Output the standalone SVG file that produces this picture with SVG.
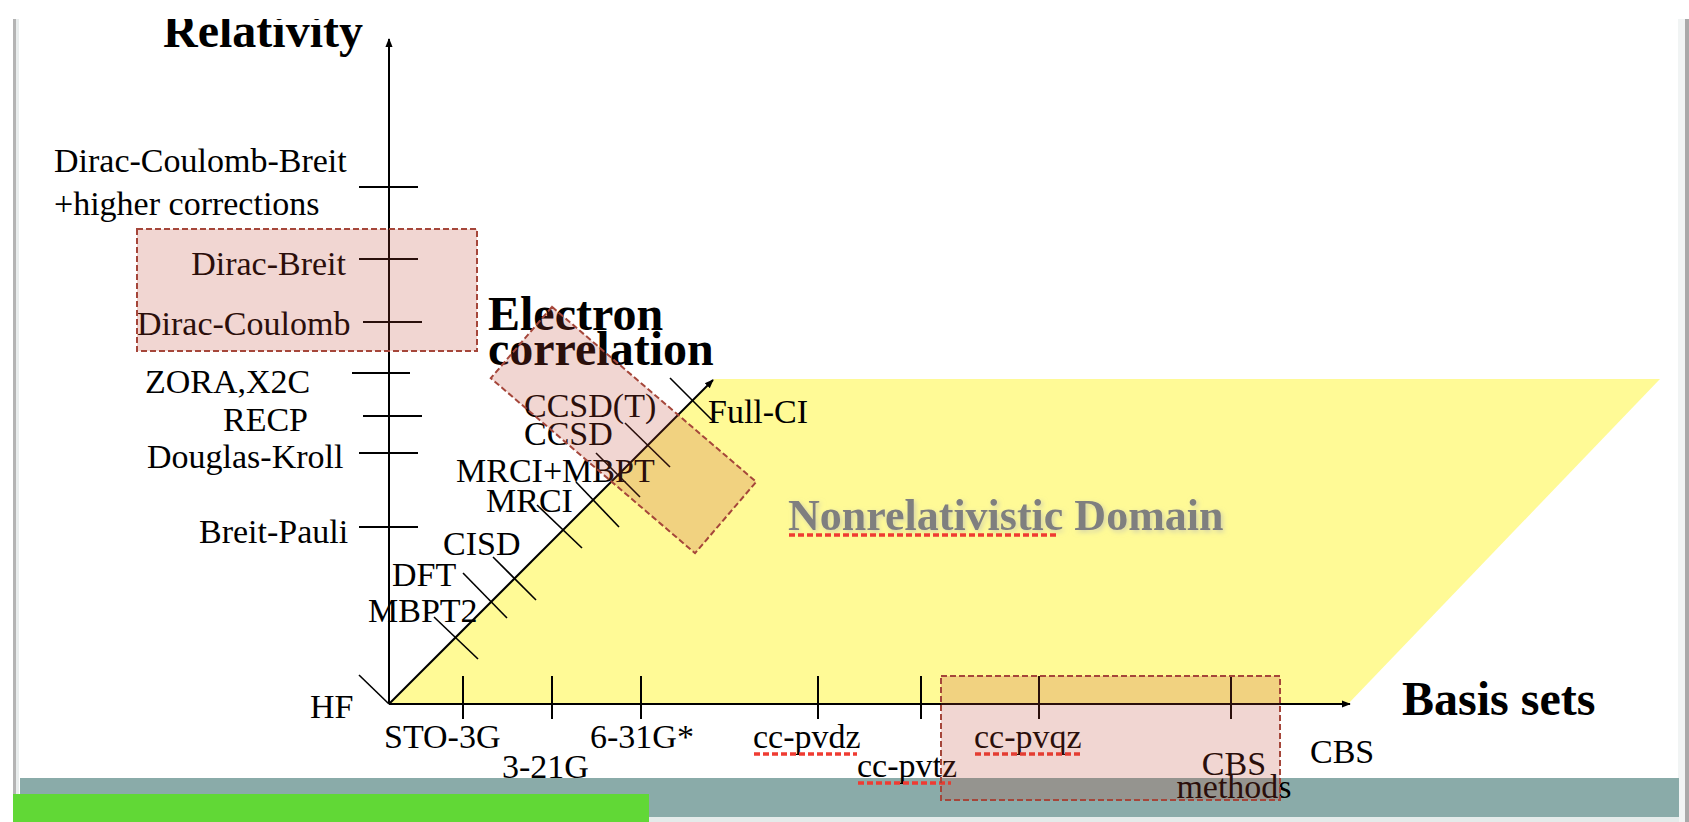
<svg xmlns="http://www.w3.org/2000/svg" width="1689" height="822" viewBox="0 0 1689 822">
  <style>
    text { font-family: "Liberation Serif", "Times New Roman", serif; fill: #000; }
    .lbl { font-size: 34px; }
    .ttl { font-size: 48px; font-weight: bold; }
    .ctr { text-anchor: middle; }
    .end { text-anchor: end; }
    .axis { stroke: #000; stroke-width: 2; fill: none; }
    .tick { stroke: #000; stroke-width: 2; fill: none; }
    .dtick { stroke: #000; stroke-width: 1.6; fill: none; }
    .hl { fill: rgb(192,68,52); fill-opacity: 0.22; stroke: #a5463a; stroke-width: 2; stroke-dasharray: 6 3; }
    .squig { stroke: #ef3b32; stroke-width: 3.5; stroke-dasharray: 6 3; fill: none; }
    .dom { font-size: 44px; font-weight: bold; fill: #7f7f7f; }
  </style>
  <defs>
    <marker id="arr" viewBox="0 0 10 10" refX="9" refY="5" markerWidth="9" markerHeight="9" markerUnits="userSpaceOnUse" orient="auto">
      <path d="M0,1 L10,5 L0,9 Z" fill="#000"/>
    </marker>
    <clipPath id="slide">
      <rect x="0" y="19" width="1689" height="803"/>
    </clipPath>
    <filter id="glow" x="-10%" y="-40%" width="120%" height="180%">
      <feGaussianBlur in="SourceAlpha" stdDeviation="2.5" result="b"/>
      <feOffset in="b" dx="2" dy="2" result="o"/>
      <feFlood flood-color="#c8c8b0" flood-opacity="0.8"/>
      <feComposite in2="o" operator="in" result="s"/>
      <feMerge><feMergeNode in="s"/><feMergeNode in="SourceGraphic"/></feMerge>
    </filter>
  </defs>

  <!-- background and slide frame -->
  <rect x="0" y="0" width="1689" height="822" fill="#fff"/>
  <rect x="13" y="19" width="3" height="803" fill="#b4b4b4"/>
  <rect x="16" y="19" width="3" height="803" fill="#e9eded"/>
  <rect x="1678" y="19" width="7" height="803" fill="#f1f4f4"/>
  <rect x="1685" y="19" width="4" height="803" fill="#a9a9a9"/>

  <!-- nonrelativistic domain -->
  <g id="domain">
    <polygon points="389,704 714,379 1660,379 1348,704" fill="#fffa96"/>
    <text class="dom" x="788" y="530" filter="url(#glow)">Nonrelativistic Domain</text>
    <line class="squig" x1="789" y1="535" x2="1059" y2="535"/>
  </g>

  <!-- footer bands -->
  <rect x="20" y="778" width="1659" height="39" fill="#8aaba9"/>
  <rect x="20" y="817" width="1659" height="5" fill="#e4ebea"/>
  <rect x="13" y="794" width="636" height="28" fill="#61d836"/>

  <!-- axes (connectors) -->
  <g id="connectors">
    <line class="axis" x1="389" y1="704" x2="389" y2="39" marker-end="url(#arr)"/>
    <line class="axis" x1="389" y1="704" x2="1350" y2="704" marker-end="url(#arr)"/>
    <line class="axis" x1="389" y1="704" x2="713" y2="380" stroke-width="1.6" marker-end="url(#arr)"/>
  </g>

  <!-- axis titles -->
  <g id="title-relativity" clip-path="url(#slide)">
    <text class="ttl" x="163" y="47">Relativity</text>
  </g>
  <g id="title-correlation">
    <text class="ttl" x="488" y="330">Electron</text>
    <text class="ttl" x="488" y="365">correlation</text>
  </g>
  <g id="title-basis">
    <text class="ttl" x="1402" y="715">Basis sets</text>
  </g>

  <!-- relativity axis nodes -->
  <g id="n-dcb">
    <line class="tick" x1="359" y1="187" x2="418" y2="187"/>
    <text class="lbl" x="54" y="172">Dirac-Coulomb-Breit</text>
    <text class="lbl" x="54" y="215">+higher corrections</text>
  </g>
  <g id="n-db">
    <line class="tick" x1="359" y1="259" x2="418" y2="259"/>
    <text class="lbl end" x="346" y="275">Dirac-Breit</text>
  </g>
  <g id="n-dc">
    <line class="tick" x1="363" y1="322" x2="422" y2="322"/>
    <text class="lbl" x="137" y="335">Dirac-Coulomb</text>
  </g>
  <g id="n-zora">
    <line class="tick" x1="352" y1="373" x2="410" y2="373"/>
    <text class="lbl" x="145" y="393">ZORA,X2C</text>
  </g>
  <g id="n-recp">
    <line class="tick" x1="363" y1="416" x2="422" y2="416"/>
    <text class="lbl" x="223" y="431">RECP</text>
  </g>
  <g id="n-dk">
    <line class="tick" x1="359" y1="453" x2="418" y2="453"/>
    <text class="lbl" x="147" y="468">Douglas-Kroll</text>
  </g>
  <g id="n-bp">
    <line class="tick" x1="359" y1="527" x2="418" y2="527"/>
    <text class="lbl" x="199" y="543">Breit-Pauli</text>
  </g>

  <!-- correlation axis nodes -->
  <g id="n-hf">
    <line class="dtick" x1="359" y1="675" x2="389" y2="704"/>
    <text class="lbl" x="310" y="718">HF</text>
  </g>
  <g id="n-mbpt2">
    <line class="dtick" x1="434" y1="617" x2="478" y2="659"/>
    <text class="lbl" x="368" y="622">MBPT2</text>
  </g>
  <g id="n-dft">
    <line class="dtick" x1="463" y1="573" x2="507" y2="618"/>
    <text class="lbl" x="392" y="586">DFT</text>
  </g>
  <g id="n-cisd">
    <line class="dtick" x1="493" y1="557" x2="536" y2="600"/>
    <text class="lbl" x="443" y="555">CISD</text>
  </g>
  <g id="n-mrci">
    <line class="dtick" x1="537" y1="505" x2="582" y2="548"/>
    <text class="lbl" x="486" y="512">MRCI</text>
  </g>
  <g id="n-mrcimbpt">
    <line class="dtick" x1="576" y1="482" x2="619" y2="527"/>
    <text class="lbl" x="456" y="482">MRCI+MBPT</text>
  </g>
  <g id="n-ccsd">
    <line class="dtick" x1="596" y1="453" x2="640" y2="497"/>
    <text class="lbl" x="524" y="445">CCSD</text>
  </g>
  <g id="n-ccsdt">
    <line class="dtick" x1="625" y1="423" x2="670" y2="467"/>
    <text class="lbl" x="524" y="417">CCSD(T)</text>
  </g>
  <g id="n-fullci">
    <line class="dtick" x1="670" y1="378" x2="712" y2="420"/>
    <text class="lbl" x="708" y="423">Full-CI</text>
  </g>

  <!-- basis set axis nodes -->
  <g id="n-sto3g">
    <line class="tick" x1="463" y1="676" x2="463" y2="719"/>
    <text class="lbl" x="384" y="748">STO-3G</text>
  </g>
  <g id="n-321g">
    <line class="tick" x1="552" y1="676" x2="552" y2="719"/>
    <text class="lbl" x="502" y="778">3-21G</text>
  </g>
  <g id="n-631g">
    <line class="tick" x1="641" y1="676" x2="641" y2="719"/>
    <text class="lbl" x="590" y="748">6-31G*</text>
  </g>
  <g id="n-ccpvdz">
    <line class="tick" x1="818" y1="676" x2="818" y2="719"/>
    <text class="lbl" x="753" y="748">cc-pvdz</text>
    <line class="squig" x1="754" y1="754" x2="857" y2="754"/>
  </g>
  <g id="n-ccpvtz">
    <line class="tick" x1="921" y1="676" x2="921" y2="719"/>
    <text class="lbl" x="857" y="777">cc-pvtz</text>
    <line class="squig" x1="858" y1="783" x2="951" y2="783"/>
  </g>
  <g id="n-ccpvqz">
    <line class="tick" x1="1039" y1="676" x2="1039" y2="719"/>
    <text class="lbl" x="974" y="748">cc-pvqz</text>
    <line class="squig" x1="975" y1="754" x2="1080" y2="754"/>
  </g>
  <g id="n-cbsm">
    <line class="tick" x1="1231" y1="676" x2="1231" y2="719"/>
    <text class="lbl ctr" x="1234" y="775">CBS</text>
    <text class="lbl ctr" x="1234" y="798">methods</text>
  </g>
  <g id="n-cbs">
    <text class="lbl" x="1310" y="763">CBS</text>
  </g>

  <!-- highlight boxes -->
  <g id="box-dirac">
    <rect class="hl" x="137" y="229" width="340" height="122"/>
  </g>
  <g id="box-cc">
    <rect class="hl" x="-134.5" y="-47" width="269" height="94" transform="translate(623.5,430) rotate(40.6)"/>
  </g>
  <g id="box-cbs">
    <rect class="hl" x="941" y="676" width="339" height="124"/>
  </g>
</svg>
